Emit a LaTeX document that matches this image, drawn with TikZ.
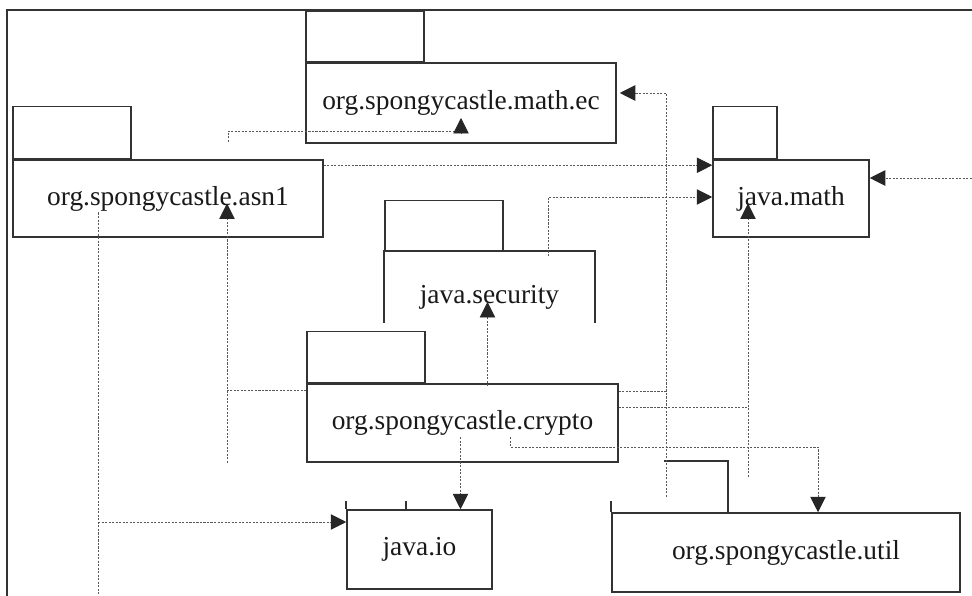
\documentclass[tikz,border=0pt]{standalone}
\usepackage{fontspec}
\setmainfont{Liberation Serif}
\usetikzlibrary{arrows.meta,calc}
\newcommand{\pxl}[1]{#1*0.025cm}
\tikzstyle{pkg}=[draw=black!80, line width=1.1pt, fill=white, inner sep=0pt,
    text=black!90, font=\fontsize{19.5}{23}\selectfont]
\tikzstyle{tab}=[draw=black!80, line width=1.1pt, fill=white, inner sep=0pt, anchor=south west]
\tikzstyle{depline}=[draw=black!65, line width=0.6pt, dash pattern=on 1.5pt off 1pt]
\tikzstyle{dep}=[depline, -{Triangle[length=11pt,width=11pt,color=black!85]}]

\begin{document}
\begin{tikzpicture}[x=0.025cm, y=-0.025cm]
  \useasboundingbox (0,0) rectangle (972,596);
  \draw[black!80, line width=1.1pt] (7,596) -- (7,10) -- (972,10);

  % packages
  \node at (461,103) (ec)[pkg, minimum width=\pxl{310}, minimum height=\pxl{80}] {org.spongycastle.math.ec};
  \node at (ec.north west) (ectab)[tab, minimum width=\pxl{118}, minimum height=\pxl{50}] {};
  \node at (168,198.5) (asn1)[pkg, minimum width=\pxl{310}, minimum height=\pxl{77}] {org.spongycastle.asn1};
  \node at (asn1.north west) (asn1tab)[tab, minimum width=\pxl{118}, minimum height=\pxl{52}] {};
  \node at (791,198.5) (jmath)[pkg, minimum width=\pxl{156}, minimum height=\pxl{77}] {java.math};
  \node at (jmath.north west) (jmathtab)[tab, minimum width=\pxl{64}, minimum height=\pxl{52}] {};

  \node at (489.5,297) (sec)[pkg, draw=none, minimum width=\pxl{209}, minimum height=\pxl{90}] {java.security};
  \draw[black!80, line width=1.1pt] (sec.west |- 0,323) |- (sec.north east) -- (sec.east |- 0,323);
  \node at (sec.north west) (sectab)[tab, minimum width=\pxl{118}, minimum height=\pxl{50}] {};

  \node at (462.5,423) (crypto)[pkg, minimum width=\pxl{311}, minimum height=\pxl{78}] {org.spongycastle.crypto};
  \node at (crypto.north west) (cryptotab)[tab, minimum width=\pxl{118}, minimum height=\pxl{51}] {};

  \node at (419.5,549.5) (jio)[pkg, minimum width=\pxl{145}, minimum height=\pxl{79}] {java.io};
  \draw[black!80, line width=1.1pt] (jio.north west) -- ++(0,-8) (jio.north west) ++(60,0) -- ++(0,-8);

  \node at (786,552.5) (util)[pkg, minimum width=\pxl{348}, minimum height=\pxl{79}] {org.spongycastle.util};
  \draw[black!80, line width=1.1pt] (util.north west) -- ++(0,-11) (util.north west) ++(117,0) |- ++(-64,-51);

  % free ends
  \coordinate (asnup) at (228,142);
  \coordinate (utilup) at (666,497);
  \coordinate (utilup2) at (748,477);
  \coordinate (rightin) at (972,178);
  \coordinate (cryleft) at (227,463);
  \coordinate (asnbot) at (98,596);
  \coordinate (iojoin) at (98,522);
  \coordinate (utiljoin) at (818,447);

  % dependencies
  \draw[dep] (asnup) |- ($(ec.center)+(0,28)$) -- ($(ec.center)+(0,15)$);
  \draw[dep] (utilup) |- ($(ec.east)+(3,-10)$);
  \draw[dep] ($(asn1.north east)+(0,6)$) coordinate (t) -- (t -| jmath.west);
  \draw[dep] ($(sec.north)+(59,5)$) |- ($(jmath.west)+(0,-1.5)$);
  \draw[dep] (rightin) -- (rightin -| jmath.east);
  \draw[dep] (utilup2) -- ($(jmath.center)+(-43,5)$);
  \draw[depline] ($(crypto.north east)+(0,8)$) coordinate (t) -- (t -| utilup);
  \draw[depline] ($(crypto.north east)+(0,24)$) coordinate (t) -- (t -| utilup2);
  \draw[dep] ($(crypto.center)+(48,14)$) |- (utiljoin) -- (utiljoin |- util.north);
  \draw[dep] ($(crypto.center)+(-2,14)$) coordinate (t) -- (t |- jio.north);
  \draw[dep] ($(crypto.north)+(25,3)$) -- ($(sec.center)+(-2,5)$);
  \draw[depline] ($(crypto.north west)+(0,7)$) coordinate (t) -- (t -| cryleft);
  \draw[dep] (cryleft) -- ($(asn1.center)+(59,5)$);
  \draw[depline] ($(asn1.center)+(-70,14)$) -- (asnbot);
  \draw[dep] (iojoin) -- (iojoin -| jio.west);
\end{tikzpicture}
\end{document}
